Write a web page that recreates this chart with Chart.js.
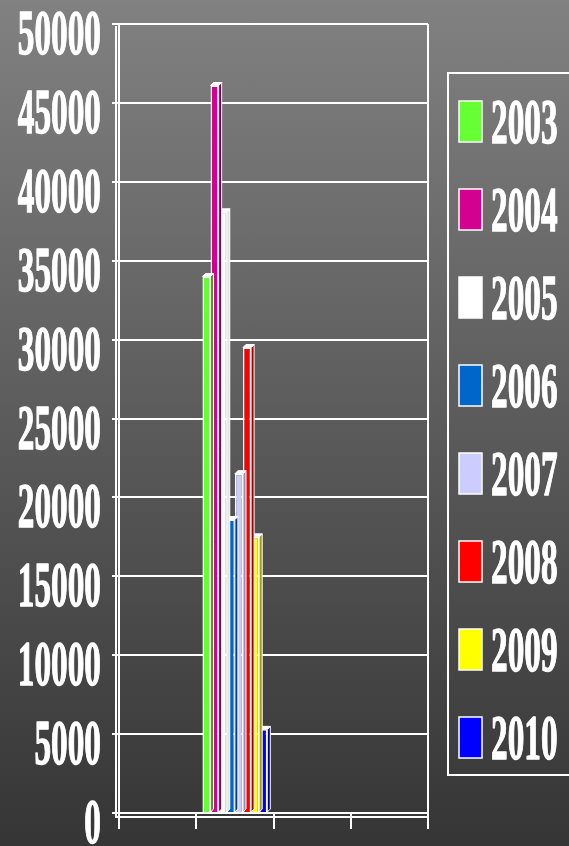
<!DOCTYPE html>
<html>
<head>
<meta charset="utf-8">
<script src="https://cdn.jsdelivr.net/npm/chart.js@4.4.1/dist/chart.umd.min.js"></script>
<style>
  html, body { margin: 0; padding: 0; }
  body { width: 569px; height: 846px; background: linear-gradient(#818181, #353535); overflow: hidden; }
  canvas { display: block; }
</style>
</head>
<body>
<canvas id="yearChart" width="569" height="846"></canvas>
<script>
// categories on the x axis (only the second one holds data)
const categories = ["", "", "", ""];
const years = ["2003", "2004", "2005", "2006", "2007", "2008", "2009", "2010"];
const yearValues = [34000, 46100, 38100, 18600, 21500, 29500, 17500, 5300];
const yearColors = [
    "#66ff33", // 2003
    "#d4008f", // 2004
    "#ffffff", // 2005
    "#0066cc", // 2006
    "#ccccff", // 2007
    "#ff0000", // 2008
    "#ffff00", // 2009
    "#0000ff"  // 2010
];
// darker side faces for the 3d look
const sideColors = ["#3f9f20", "#7a0052", "#e6e6e6", "#003d7a", "#8f8fb3", "#a00000", "#a0a000", "#00008f"];
const yTicks = [0, 5000, 10000, 15000, 20000, 25000, 30000, 35000, 40000, 45000, 50000];

const serif = '"Liberation Serif", "Times New Roman", serif';

// narrow bold serif text, squeezed sideways like the original
function squeezed(ctx, text, x, y, align) {
    ctx.save();
    ctx.font = "bold 64px " + serif;
    ctx.fillStyle = "#ffffff";
    ctx.strokeStyle = "#ffffff";
    ctx.lineWidth = 1.4;
    ctx.lineJoin = "round";
    ctx.textBaseline = "alphabetic";
    ctx.textAlign = align;
    ctx.translate(x, y);
    ctx.scale(0.52, 1);
    ctx.fillText(text, 0, 0);
    ctx.strokeText(text, 0, 0);
    ctx.restore();
}

const framePlugin = {
    id: "frame",
    beforeDatasetsDraw(chart) {
        const ctx = chart.ctx;
        const a = chart.chartArea;
        ctx.save();
        ctx.strokeStyle = "#ffffff";
        ctx.lineWidth = 2;
        ctx.beginPath();
        // right wall edge
        ctx.moveTo(a.right, a.top);
        ctx.lineTo(a.right, a.bottom);
        // front edges of the floor / wall
        ctx.moveTo(a.left - 3, a.top + 2);
        ctx.lineTo(a.left - 3, a.bottom + 4);
        ctx.lineTo(a.right, a.bottom + 4);
        ctx.stroke();
        ctx.restore();
    },
    afterDatasetDraw(chart, args) {
        // top cap and side face of each bar
        const ctx = chart.ctx;
        const i = args.index;
        const values = chart.data.datasets[i].data;
        const d = 3;
        args.meta.data.forEach((bar, j) => {
            if (values[j] == null) return;
            const l = bar.x - bar.width / 2, r = bar.x + bar.width / 2;
            const t = bar.y, b = bar.base;
            ctx.save();
            ctx.strokeStyle = "#ffffff";
            ctx.lineWidth = 1;
            ctx.fillStyle = sideColors[i];
            ctx.beginPath();
            ctx.moveTo(r, t);
            ctx.lineTo(r + d, t - d);
            ctx.lineTo(r + d, b - d);
            ctx.lineTo(r, b);
            ctx.closePath();
            ctx.fill();
            ctx.stroke();
            ctx.fillStyle = "#ffffff";
            ctx.beginPath();
            ctx.moveTo(l, t);
            ctx.lineTo(l + d, t - d);
            ctx.lineTo(r + d, t - d);
            ctx.lineTo(r, t);
            ctx.closePath();
            ctx.fill();
            ctx.stroke();
            ctx.restore();
        });
    },
    afterDraw(chart) {
        const ctx = chart.ctx;
        const y = chart.scales.y;
        y.ticks.forEach(t => {
            squeezed(ctx, String(t.value), 101, y.getPixelForValue(t.value) + 30, "right");
        });

        // legend box
        ctx.save();
        ctx.strokeStyle = "#ffffff";
        ctx.lineWidth = 2;
        ctx.strokeRect(448, 73, 140, 702);
        chart.data.datasets.forEach((ds, i) => {
            const top = 101 + i * 88;
            ctx.fillStyle = ds.backgroundColor;
            ctx.fillRect(459, top, 23, 41);
            ctx.lineWidth = 1.5;
            ctx.strokeRect(459, top, 23, 41);
            squeezed(ctx, ds.label, 491, top + 42, "left");
        });
        ctx.restore();
    }
};

new Chart("yearChart", {
    type: "bar",
    data: {
        labels: categories,
        datasets: years.map((yr, i) => ({
            label: yr,
            data: categories.map((c, j) => j === 1 ? yearValues[i] : null),
            backgroundColor: yearColors[i],
            borderColor: "#ffffff",
            borderWidth: 1.5,
            categoryPercentage: 0.84,
            barPercentage: 1.0
        }))
    },
    options: {
        responsive: false,
        animation: false,
        layout: { padding: { top: 24, right: 141, bottom: 0, left: 0 } },
        plugins: {
            legend: { display: false },
            tooltip: { enabled: false }
        },
        scales: {
            x: {
                grid: { drawOnChartArea: false, drawTicks: true, tickLength: 16, color: "#ffffff", lineWidth: 2 },
                border: { color: "#ffffff", width: 2 },
                ticks: { display: false },
                afterFit(scale) { scale.height = 33; }
            },
            y: {
                min: 0,
                max: 50000,
                afterBuildTicks(scale) { scale.ticks = yTicks.map(v => ({ value: v })); },
                grid: { color: "#ffffff", lineWidth: 2, drawTicks: true, tickLength: 7 },
                border: { color: "#ffffff", width: 2 },
                ticks: { display: false },
                afterFit(scale) { scale.width = 119; }
            }
        }
    },
    plugins: [framePlugin]
});
</script>
</body>
</html>
